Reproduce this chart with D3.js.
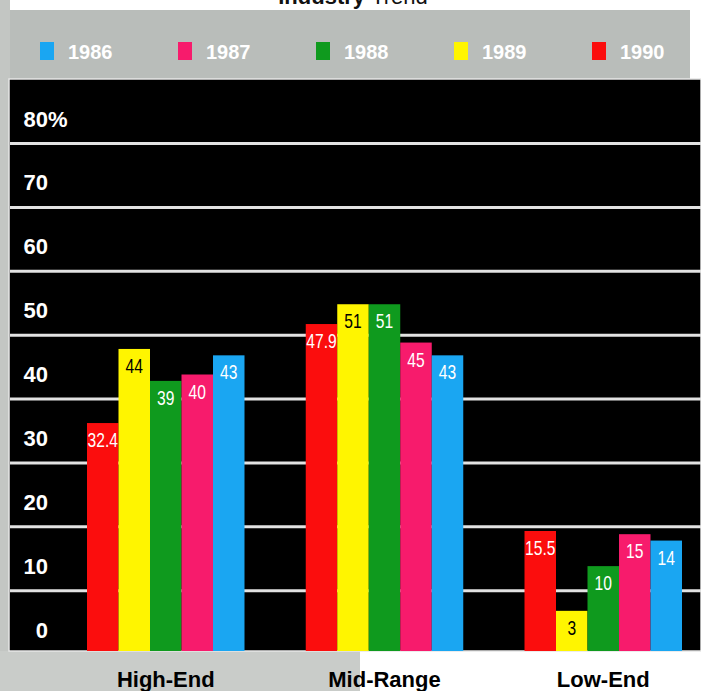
<!DOCTYPE html>
<html>
<head>
<meta charset="utf-8">
<script src="https://cdn.jsdelivr.net/npm/d3@7"></script>
<style>
  body { margin: 0; background: #fff; }
  svg { display: block; }
</style>
</head>
<body>
<script>
// Market share by segment, 1986–1990 (percent)
const categories = ["High-End", "Mid-Range", "Low-End"];
const years = ["1986", "1987", "1988", "1989", "1990"];
const barOrder = ["1990", "1989", "1988", "1987", "1986"];
const share1986 = [43, 43, 14];
const share1987 = [40, 45, 15];
const share1988 = [39, 51, 10];
const share1989 = [44, 51, 3];
const share1990 = [32.4, 47.9, 15.5];
const tickValues = [0, 10, 20, 30, 40, 50, 60, 70, 80];
const yearColors = ["#1aa6f2", "#f71b6c", "#0f9a1e", "#fff500", "#fb0d0d"];
const labelColors = ["#fff", "#fff", "#fff", "#000", "#fff"];

const seriesByYear = {
  "1986": share1986, "1987": share1987, "1988": share1988,
  "1989": share1989, "1990": share1990
};

const W = 701, H = 691;
const panel = { left: 10, top: 80, right: 701, bottom: 651 };

const svg = d3.select("body").append("svg")
  .attr("width", W).attr("height", H);

// backdrop: grey legend band, grey left margin and lower-left strip
svg.append("rect").attr("x", 0).attr("y", 0).attr("width", W).attr("height", H).attr("fill", "#fff");
svg.append("rect").attr("x", 0).attr("y", 10).attr("width", 690).attr("height", 72).attr("fill", "#b9bdba");
svg.append("rect").attr("x", 0).attr("y", 0).attr("width", 10).attr("height", H).attr("fill", "#c3c6c3");
svg.append("rect").attr("x", 0).attr("y", panel.bottom).attr("width", 360).attr("height", H - panel.bottom).attr("fill", "#c9ccc9");

// title (runs off the top edge)
const title = svg.append("text")
  .attr("x", 353).attr("y", 4)
  .attr("text-anchor", "middle")
  .attr("font-family", "Liberation Sans, Arial, sans-serif")
  .attr("font-size", 22).attr("fill", "#111");
title.append("tspan").attr("font-weight", "bold").text("Industry ");
title.append("tspan").text("Trend");

// legend
const color = d3.scaleOrdinal().domain(years).range(yearColors);
const labelColor = d3.scaleOrdinal().domain(years).range(labelColors);
const legendX = d3.scalePoint().domain(years).range([40, 592]);

const legend = svg.append("g").selectAll("g").data(years).join("g")
  .attr("transform", d => `translate(${legendX(d)},42)`);
legend.append("rect")
  .attr("width", 14).attr("height", 18)
  .attr("fill", d => color(d));
legend.append("text")
  .attr("x", 28).attr("y", 17)
  .attr("font-family", "Liberation Sans, Arial, sans-serif")
  .attr("font-weight", "bold").attr("font-size", 20)
  .attr("fill", "#fff")
  .text(d => d);

// plot panel
svg.append("rect")
  .attr("x", panel.left - 1).attr("y", panel.top - 1)
  .attr("width", panel.right - panel.left + 1).attr("height", panel.bottom - panel.top + 1)
  .attr("fill", "#000").attr("stroke", "#e6e6e6").attr("stroke-width", 1.5);

const y = d3.scaleLinear().domain([0, 80]).range([630, 119]);
const gridOffset = 24;

// grid lines sit just below each tick label
const gridAxis = d3.axisLeft(y)
  .tickValues(tickValues.filter(v => v > 0))
  .tickSize(-(panel.right - panel.left))
  .tickFormat("");
svg.append("g")
  .attr("transform", `translate(${panel.left},${gridOffset})`)
  .call(gridAxis)
  .call(g => g.select(".domain").remove())
  .call(g => g.selectAll("line").attr("stroke", "#e2e2e2").attr("stroke-width", 3));

// tick labels
const labelAxis = d3.axisLeft(y)
  .tickValues(tickValues)
  .tickSize(0).tickPadding(0)
  .tickFormat(d3.format("d"));
const yAxisG = svg.append("g")
  .attr("transform", "translate(48,0)")
  .call(labelAxis)
  .call(g => g.select(".domain").remove());
yAxisG.selectAll("text")
  .attr("font-family", "Liberation Sans, Arial, sans-serif")
  .attr("font-weight", "bold").attr("font-size", 22)
  .attr("fill", "#fff");
yAxisG.selectAll(".tick").filter(d => d === 80)
  .append("text")
  .attr("x", 0).attr("dy", "0.32em")
  .attr("text-anchor", "start")
  .attr("font-family", "Liberation Sans, Arial, sans-serif")
  .attr("font-weight", "bold").attr("font-size", 22)
  .attr("fill", "#fff")
  .text("%");

// bars
const x0 = d3.scaleBand().domain(categories).range([87, 682]).paddingInner(0.28).paddingOuter(0);
const x1 = d3.scaleBand().domain(barOrder).range([0, x0.bandwidth()]).padding(0);

const rows = [];
categories.forEach((c, i) => {
  barOrder.forEach(yr => rows.push({ cat: c, year: yr, value: seriesByYear[yr][i] }));
});

const bars = svg.append("g").selectAll("g").data(rows).join("g")
  .attr("transform", d => `translate(${x0(d.cat) + x1(d.year)},0)`);
bars.append("rect")
  .attr("x", 0).attr("width", x1.bandwidth())
  .attr("y", d => y(d.value))
  .attr("height", d => panel.bottom - y(d.value))
  .attr("fill", d => color(d.year));
// value labels in a narrow face, squeezed horizontally
bars.append("g")
  .attr("transform", d => `translate(${x1.bandwidth() / 2},${y(d.value) + 17}) scale(0.78,1)`)
  .append("text")
  .attr("dy", "0.35em")
  .attr("text-anchor", "middle")
  .attr("font-family", "Liberation Sans, Arial, sans-serif")
  .attr("font-size", 20)
  .attr("fill", d => labelColor(d.year))
  .text(d => d.value);

// category labels
const xAxis = d3.axisBottom(x0).tickSize(0).tickPadding(0);
svg.append("g")
  .attr("transform", `translate(0,${panel.bottom})`)
  .call(xAxis)
  .call(g => g.select(".domain").remove())
  .call(g => g.selectAll("text")
    .attr("y", 36)
    .attr("dy", 0)
    .attr("font-family", "Liberation Sans, Arial, sans-serif")
    .attr("font-weight", "bold").attr("font-size", 22)
    .attr("fill", "#000"));
</script>
</body>
</html>
